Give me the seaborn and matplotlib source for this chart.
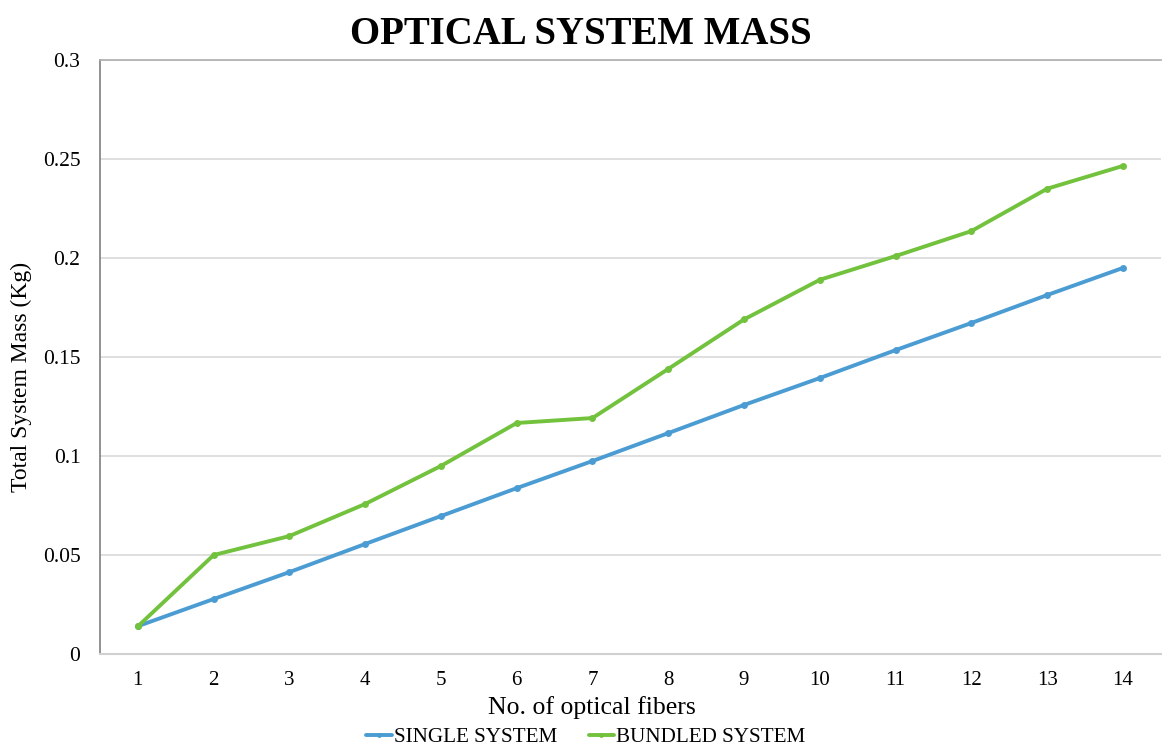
import matplotlib
matplotlib.use("Agg")
import matplotlib.pyplot as plt
import seaborn as sns
import pandas as pd

fibers = list(range(1, 15))
single_system = [0.0141, 0.0278, 0.0414, 0.0556, 0.0697, 0.0838, 0.0975,
                 0.1116, 0.1258, 0.1394, 0.1535, 0.1672, 0.1813, 0.1950]
bundled_system = [0.0140, 0.0500, 0.0596, 0.0758, 0.0950, 0.1167, 0.1192,
                  0.1440, 0.1690, 0.1890, 0.2010, 0.2136, 0.2350, 0.2465]
series_names = ["SINGLE SYSTEM", "BUNDLED SYSTEM"]
y_ticks = [0, 0.05, 0.1, 0.15, 0.2, 0.25, 0.3]
y_tick_labels = ["0", "0.05", "0.1", "0.15", "0.2", "0.25", "0.3"]

df = pd.DataFrame({
    "fibers": fibers * 2,
    "mass": single_system + bundled_system,
    "series": [series_names[0]] * len(fibers) + [series_names[1]] * len(fibers),
})

sns.set_theme(style="white")
plt.rcParams["font.family"] = ["Liberation Serif", "DejaVu Serif"]
plt.rcParams["text.color"] = "black"
plt.rcParams["axes.labelcolor"] = "black"
plt.rcParams["xtick.color"] = "black"
plt.rcParams["ytick.color"] = "black"

fig = plt.figure(figsize=(11.62, 7.45), dpi=100)
ax = fig.add_axes([0.086, 0.122, 0.913, 0.7975])

palette = {series_names[0]: "#4b9cd3", series_names[1]: "#72c23d"}
sns.lineplot(data=df, x="fibers", y="mass", hue="series", palette=palette,
             marker="o", markersize=5, markeredgewidth=0, linewidth=2.8,
             ax=ax, legend=True)

ax.set_xlim(0.5, 14.5)
ax.set_ylim(0, 0.3)
ax.set_xticks(fibers)
ax.set_xticklabels([str(f) for f in fibers], fontsize=15)
ax.set_yticks(y_ticks)
ax.set_yticklabels(y_tick_labels, fontsize=15.5)
ax.tick_params(axis="x", length=0, pad=12)
ax.tick_params(axis="y", length=0, pad=14)
ax.yaxis.grid(True, color="#d9d9d9", linewidth=1.2)
ax.set_axisbelow(True)

ax.spines["right"].set_visible(False)
ax.spines["top"].set_color("#b0b0b0")
ax.spines["left"].set_color("#7f7f7f")
ax.spines["bottom"].set_color("#d0d0d0")
ax.spines["left"].set_linewidth(1.2)
ax.spines["bottom"].set_linewidth(1.5)

ax.set_xlabel("No. of optical fibers", fontsize=18.5)
ax.xaxis.set_label_coords(0.464, -0.070)
ax.set_ylabel("Total System Mass (Kg)", fontsize=17)
ax.yaxis.set_label_coords(-0.064, 0.466)

fig.suptitle("OPTICAL SYSTEM MASS", fontsize=28, fontweight="bold", y=0.978)

handles, labels = ax.get_legend_handles_labels()
ax.legend(handles, labels, loc="center", bbox_to_anchor=(0.458, -0.14),
          ncol=2, frameon=False, fontsize=15.2, handlelength=1.2,
          handletextpad=0.1, columnspacing=1.5, markerscale=0.7)

fig.savefig("out.png", dpi=100, facecolor="white")
